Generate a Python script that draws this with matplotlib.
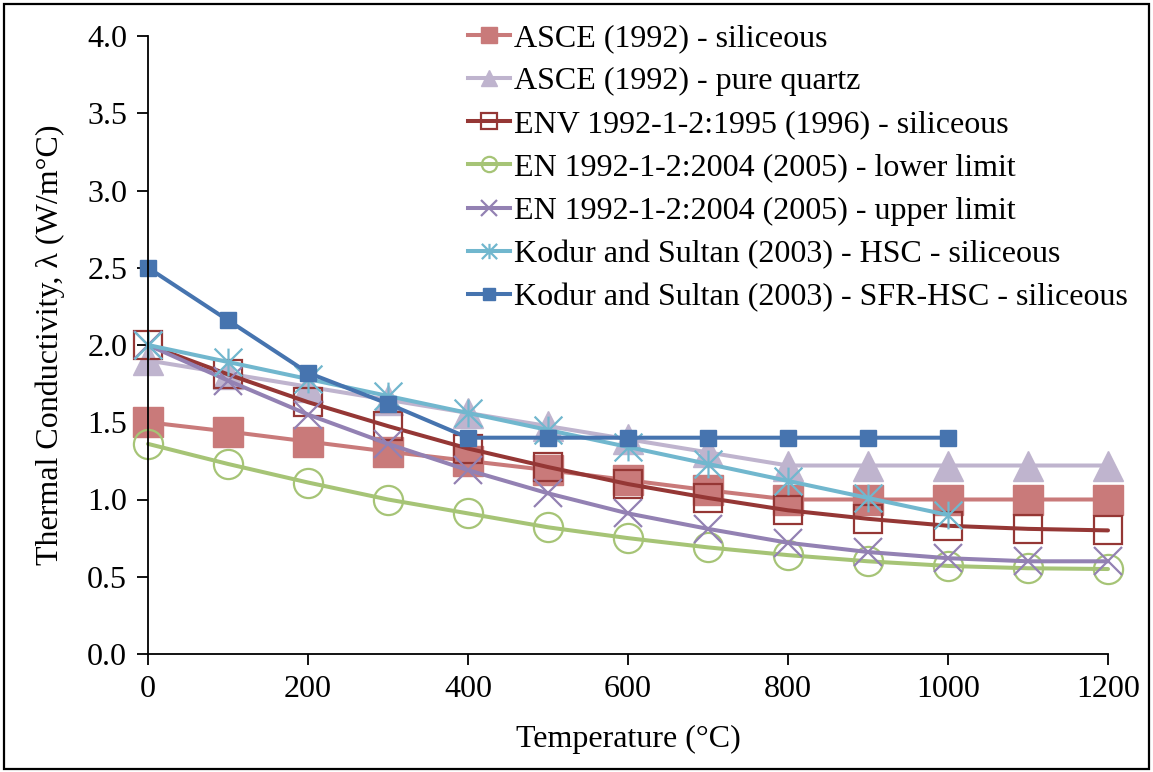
import numpy as np
import matplotlib
matplotlib.use("Agg")
import matplotlib.pyplot as plt
from matplotlib.lines import Line2D
from matplotlib.path import Path
from matplotlib.patches import Rectangle

plt.rcParams['font.family'] = ['Liberation Serif', 'DejaVu Serif']

temps = [0, 100, 200, 300, 400, 500, 600, 700, 800, 900, 1000, 1100, 1200]
temps_kodur = [0, 100, 200, 300, 400, 500, 600, 700, 800, 900, 1000]

asce_siliceous = [1.5, 1.44, 1.375, 1.31, 1.25, 1.19, 1.125, 1.06, 1.0, 1.0, 1.0, 1.0, 1.0]
asce_quartz = [1.9, 1.815, 1.73, 1.645, 1.56, 1.475, 1.39, 1.305, 1.22, 1.22, 1.22, 1.22, 1.22]
env_siliceous = [2.0, 1.81, 1.63, 1.475, 1.33, 1.21, 1.1, 1.01, 0.93, 0.875, 0.83, 0.81, 0.8]
en_lower = [1.36, 1.23, 1.11, 1.0, 0.91, 0.82, 0.75, 0.69, 0.64, 0.6, 0.57, 0.555, 0.55]
en_upper = [2.0, 1.77, 1.55, 1.36, 1.19, 1.04, 0.91, 0.81, 0.72, 0.66, 0.62, 0.6, 0.6]
kodur_hsc = [2.0, 1.89, 1.78, 1.67, 1.56, 1.45, 1.34, 1.23, 1.12, 1.01, 0.9]
kodur_sfr = [2.5, 2.16, 1.82, 1.62, 1.4, 1.4, 1.4, 1.4, 1.4, 1.4, 1.4]

labels = [
    "ASCE (1992) - siliceous",
    "ASCE (1992) - pure quartz",
    "ENV 1992-1-2:1995 (1996) - siliceous",
    "EN 1992-1-2:2004 (2005) - lower limit",
    "EN 1992-1-2:2004 (2005) - upper limit",
    "Kodur and Sultan (2003) - HSC - siliceous",
    "Kodur and Sultan (2003) - SFR-HSC - siliceous",
]

# excel style asterisk: vertical bar plus an X
star = Path([(-1, -1), (1, 1), (-1, 1), (1, -1), (0, -1), (0, 1)],
            [Path.MOVETO, Path.LINETO, Path.MOVETO, Path.LINETO, Path.MOVETO, Path.LINETO])

c_red = "#C97A7A"
c_lav = "#BFB4CE"
c_dred = "#953735"
c_green = "#A6C476"
c_purple = "#9381B3"
c_aqua = "#71B7CE"
c_blue = "#4674AF"

styles = [
    dict(color=c_red, marker="s", ms=21, mfc=c_red, mec=c_red, mew=1.0),
    dict(color=c_lav, marker="^", ms=22, mfc=c_lav, mec=c_lav, mew=1.0),
    dict(color=c_dred, marker="s", ms=20, mfc="none", mec=c_dred, mew=1.6),
    dict(color=c_green, marker="o", ms=21, mfc="none", mec=c_green, mew=1.6),
    dict(color=c_purple, marker="x", ms=20, mfc="none", mec=c_purple, mew=1.6),
    dict(color=c_aqua, marker=star, ms=20, mfc="none", mec=c_aqua, mew=1.6),
    dict(color=c_blue, marker="s", ms=12, mfc=c_blue, mec=c_blue, mew=1.0),
]
legend_ms = [11, 11, 11, 11, 11, 11, 9]

series = [
    (temps, asce_siliceous),
    (temps, asce_quartz),
    (temps, env_siliceous),
    (temps, en_lower),
    (temps, en_upper),
    (temps_kodur, kodur_hsc),
    (temps_kodur, kodur_sfr),
]

FS = 23

fig = plt.figure(figsize=(11.53, 7.72), dpi=100)
ax = fig.add_axes([148 / 1153, 1 - 654 / 772, 960 / 1153, 618 / 772])

handles = []
for (xs, ys), st, lab, lms in zip(series, styles, labels, legend_ms):
    ax.plot(xs, ys, lw=2.9, solid_capstyle="round", clip_on=False, **st)
    h = dict(st)
    h["ms"] = lms
    handles.append(Line2D([], [], lw=2.9, label=lab, **h))

ax.set_xlim(0, 1200)
ax.set_ylim(0, 4.0)
ax.set_xticks(range(0, 1201, 200))
ax.set_yticks(np.arange(0, 4.01, 0.5))
ax.set_yticklabels([f"{v:.1f}" for v in np.arange(0, 4.01, 0.5)])
ax.tick_params(direction="out", length=8, width=1.3, labelsize=FS, pad=7)
for s in ["top", "right"]:
    ax.spines[s].set_visible(False)
for s in ["left", "bottom"]:
    ax.spines[s].set_linewidth(1.3)

ax.set_xlabel("Temperature (°C)", fontsize=FS, labelpad=15)
ax.set_ylabel("Thermal Conductivity, λ (W/m°C)", fontsize=FS, labelpad=16)

fig.legend(handles=handles, loc="upper left", bbox_to_anchor=(468 / 1153, 1 - 24 / 772),
           frameon=False, fontsize=FS, handlelength=1.3, handletextpad=0.15,
           labelspacing=0.43, borderpad=0, borderaxespad=0)

fig.patches.append(Rectangle((4 / 1153, 3 / 772), 1 - 8 / 1153, 1 - 7 / 772,
                             transform=fig.transFigure, fill=False, lw=1.6,
                             edgecolor="black", zorder=10))

fig.savefig("out.png", dpi=100)
